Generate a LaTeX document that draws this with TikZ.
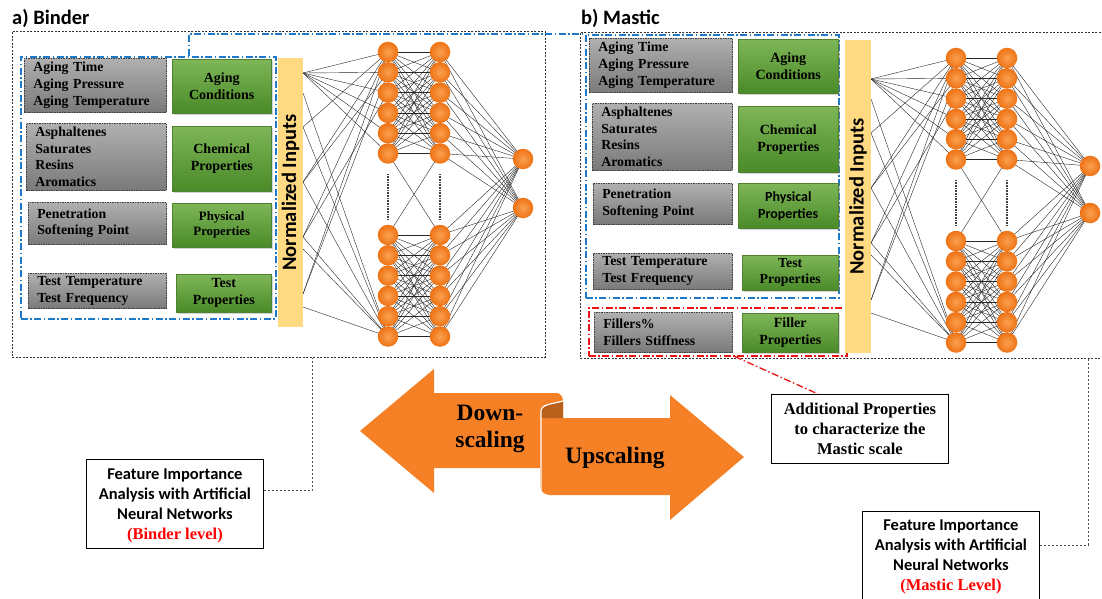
\documentclass[tikz,border=0pt]{standalone}
\usepackage{fontspec}
\setmainfont{Liberation Serif}
\newfontfamily\calfont{Carlito}
\usetikzlibrary{shadows}
\pgfdeclarelayer{bg}
\pgfsetlayers{bg,main}

\definecolor{graytop}{RGB}{176,176,176}
\definecolor{graybot}{RGB}{122,122,122}
\definecolor{greentop}{RGB}{126,182,88}
\definecolor{greenbot}{RGB}{74,138,40}
\definecolor{greenedge}{RGB}{80,128,50}
\definecolor{barfill}{RGB}{255,218,130}
\definecolor{neuronin}{RGB}{250,160,80}
\definecolor{neuronout}{RGB}{238,114,20}
\definecolor{arroworange}{RGB}{245,128,37}
\definecolor{folddark}{RGB}{184,96,28}
\definecolor{dashblue}{RGB}{32,120,200}
\definecolor{dashred}{RGB}{235,20,20}

% neural network: prefix, bar edge x, column 1 x, column 2 x, first neuron y,
% output x, output 1 y, output 2 y
\newcommand\drawnet[8]{%
  \foreach \i in {1,...,6}{
    \pgfmathsetmacro\yy{#5+(\i-1)*20.3}
    \pgfmathsetmacro\yb{#5+183+(\i-1)*20.3}
    \pgfmathtruncatemacro\jj{\i+6}
    \node[neuron] (#1a\i) at (#3,\yy) {};
    \node[neuron] (#1b\i) at (#4,\yy) {};
    \node[neuron] (#1a\jj) at (#3,\yb) {};
    \node[neuron] (#1b\jj) at (#4,\yb) {};
  }
  \node[neuron] (#1o1) at (#6,#7) {};
  \node[neuron] (#1o2) at (#6,#8) {};
  \foreach \k/\d in {1/21,2/41,3/75,4/130,5/185,6/197,7/242,8/255}
    \coordinate (#1s\k) at (#2,#5+\d);
  \draw[vdots] ([yshift=-10pt]#1a6.south) -- ([yshift=5pt]#1a7.north);
  \draw[vdots] ([yshift=-10pt]#1b6.south) -- ([yshift=5pt]#1b7.north);
  \begin{pgfonlayer}{bg}
    \foreach \i in {1,...,6} \draw[wire] (#1s1) -- (#1a\i.center);
    \foreach \p/\q in {2/12,3/1,3/12,4/1,4/2,4/12,5/1,5/3,5/12,6/12,7/1,7/2,8/12}
      \draw[wire] (#1s\p) -- (#1a\q.center);
    \foreach \i in {1,...,6} \foreach \m in {1,...,6}
      \draw[wire] (#1a\i.center) -- (#1b\m.center);
    \foreach \i in {7,...,12} \foreach \m in {7,...,12}
      \draw[wire] (#1a\i.center) -- (#1b\m.center);
    \draw[wire] (#1a6.center) -- (#1b7.center);
    \draw[wire] (#1a7.center) -- (#1b6.center);
    \foreach \i in {1,...,12}{
      \draw[wire] (#1b\i.center) -- (#1o1.center);
      \draw[wire] (#1b\i.center) -- (#1o2.center);
    }
  \end{pgfonlayer}
}

\begin{document}
\begin{tikzpicture}[x=1pt,y=-1pt,
  panel/.style={draw=black!80, dash pattern=on 2pt off 1.5pt, line width=0.7pt, anchor=north west, inner sep=0pt},
  bluedash/.style={draw=dashblue, line width=1.7pt, dash pattern=on 7pt off 2.5pt on 1.5pt off 2.5pt},
  reddash/.style={draw=dashred, line width=1.6pt, dash pattern=on 7pt off 2.5pt on 1.5pt off 2.5pt},
  framebox/.style={anchor=north west, inner sep=0pt},
  graybox/.style={draw=black!75, dash pattern=on 1.5pt off 1pt, line width=0.6pt,
    top color=graytop, bottom color=graybot, anchor=north west, inner xsep=9pt, inner ysep=0pt,
    align=left, font=\bfseries\fontsize{13.8}{16.7}\selectfont},
  greenbox/.style={draw=greenedge, line width=0.5pt, top color=greentop, bottom color=greenbot,
    drop shadow={shadow xshift=1.3pt, shadow yshift=-1.3pt, opacity=0.35},
    anchor=north west, inner sep=0pt, align=center, font=\bfseries\fontsize{14}{17}\selectfont},
  inbar/.style={fill=barfill, rotate=90, inner sep=0pt, font=\calfont\bfseries\fontsize{20.5}{24}\selectfont},
  neuron/.style={circle, minimum size=20.5pt, inner sep=0pt, inner color=neuronin, outer color=neuronout},
  wire/.style={draw=black!85, line width=0.4pt},
  vdots/.style={draw=black!75, line width=1.3pt, dash pattern=on 0.8pt off 0.8pt},
  title/.style={anchor=base west, inner sep=0pt, font=\calfont\bfseries\fontsize{20.5}{24}\selectfont},
  notebox/.style={draw=black, line width=0.8pt, anchor=north west, align=center},
  feattext/.style={font=\calfont\bfseries\fontsize{16.5}{20}\selectfont, align=center},
  conn/.style={draw=black!70, line width=0.9pt, dash pattern=on 2.5pt off 1.5pt},
  bigtext/.style={font=\bfseries\fontsize{23.5}{27}\selectfont, align=center, inner sep=0pt}
]
\useasboundingbox (0,0) rectangle (1102,599);

% ---------- panel a) Binder ----------
\node[title] (titleL) at (12,25) {a) Binder};
\node[panel, minimum width=533, minimum height=326] (panelL) at (12,31) {};
\node[framebox, bluedash, minimum width=255, minimum height=262] (blueL) at (20,56) {};

\node[graybox, minimum width=142, minimum height=54, text width=124pt] (lg1) at (24,58)
  {Aging Time\\Aging Pressure\\Aging Temperature};
\node[graybox, minimum width=140, minimum height=67, text width=122pt] (lg2) at (26,123)
  {Asphaltenes\\Saturates\\Resins\\Aromatics};
\node[graybox, minimum width=138, minimum height=42, text width=120pt] (lg3) at (28,202)
  {Penetration\\Softening Point};
\node[graybox, minimum width=138, minimum height=35, text width=120pt] (lg4) at (28,273)
  {Test Temperature\\Test Frequency};

\node[greenbox, minimum width=99, minimum height=54] (lc1) at (172,59) {Aging\\Conditions};
\node[greenbox, minimum width=99, minimum height=65] (lc2) at (172,126) {Chemical\\Properties};
\node[greenbox, minimum width=99, minimum height=44, font=\bfseries\fontsize{12.8}{15}\selectfont]
  (lc3) at (172,203) {Physical\\Properties};
\node[greenbox, minimum width=95, minimum height=38] (lc4) at (176,274) {Test\\Properties};

\node[inbar, minimum width=269, minimum height=25] (barL) at (290.5,192.5) {Normalized Inputs};
\drawnet{L}{303}{388}{440}{52}{523}{159}{208}

% ---------- panel b) Mastic ----------
\node[title] (titleR) at (581,25) {b) Mastic};
\node[panel, minimum width=540, minimum height=326] (panelR) at (580,32) {};
\node[framebox, bluedash, minimum width=253, minimum height=263] (blueR) at (585,34) {};
\node[framebox, reddash, minimum width=258, minimum height=48] (redR) at (588,307) {};

\node[graybox, minimum width=143, minimum height=54, text width=125pt] (rg1) at (589,38)
  {Aging Time\\Aging Pressure\\Aging Temperature};
\node[graybox, minimum width=140, minimum height=67, text width=122pt] (rg2) at (592,103)
  {Asphaltenes\\Saturates\\Resins\\Aromatics};
\node[graybox, minimum width=139, minimum height=41, text width=121pt] (rg3) at (593,183)
  {Penetration\\Softening Point};
\node[graybox, minimum width=139, minimum height=36, text width=121pt] (rg4) at (593,253)
  {Test Temperature\\Test Frequency};
\node[graybox, minimum width=138, minimum height=40, text width=120pt] (rg5) at (594,312)
  {Fillers\%\\Fillers Stiffness};

\node[greenbox, minimum width=100, minimum height=54] (rc1) at (738,39) {Aging\\Conditions};
\node[greenbox, minimum width=100, minimum height=66] (rc2) at (738,106) {Chemical\\Properties};
\node[greenbox, minimum width=100, minimum height=45, font=\calfont\bfseries\fontsize{14}{17}\selectfont]
  (rc3) at (738,183) {Physical\\Properties};
\node[greenbox, minimum width=96, minimum height=35, font=\bfseries\fontsize{13.8}{16}\selectfont]
  (rc4) at (742,255) {Test\\Properties};
\node[greenbox, minimum width=96, minimum height=39] (rc5) at (742,313) {Filler\\Properties};

\node[inbar, minimum width=313, minimum height=26] (barR) at (858,196.5) {Normalized Inputs};
\drawnet{R}{871}{956}{1007}{58}{1090}{166}{213}

% blue link between the two input groups
\coordinate (bj) at (189,56);
\draw[bluedash] (bj) |- (blueR.north west);

% ---------- scaling arrows ----------
\fill[arroworange] (360,431) -- (434,369) -- (434,393) -- (556,393)
  .. controls (560,393) and (563,396) .. (563,401) -- (563,418) -- (540,418)
  -- (540,468) -- (434,468) -- (434,493) -- cycle;
\fill[arroworange] (540,485) -- (540,418) -- (670,418) -- (670,395) -- (744,457)
  -- (670,520) -- (670,495) -- (550,495) .. controls (544,495) and (540,491) .. (540,485) -- cycle;
\fill[folddark] (541,418) -- (541,411) .. controls (541,405) and (553,404) .. (563,401)
  -- (563,418) -- cycle;
\draw[white, line width=1.2pt] (563,401) .. controls (553,404) and (541,404) .. (541,411) -- (541,490);
\node[bigtext] (down) at (490,429) {Down-\\scaling};
\node[bigtext] (up) at (615,458) {Upscaling};

% ---------- notes ----------
\node[notebox, minimum width=177, minimum height=69, inner sep=0pt,
  font=\bfseries\fontsize{16.5}{20}\selectfont] (addl) at (771,394)
  {Additional Properties\\to characterize the\\Mastic scale};
\draw[reddash, line width=1.3pt] ([xshift=147pt]redR.south west) -- ([xshift=47pt]addl.north west);

\node[notebox, feattext, minimum width=177, minimum height=89, inner sep=0pt] (featL) at (86,459)
  {\rule{0pt}{14pt}Feature Importance\\Analysis with Artificial\\Neural Networks\\
   {\rmfamily\color{red}(Binder level)}};
\draw[conn] ([yshift=13pt]featL.east) -| ([xshift=300pt]panelL.south west);

\node[notebox, minimum width=177, minimum height=110, inner sep=0pt] (featR) at (862,511) {};
\node[feattext, anchor=north, inner sep=0pt] (featRtext) at ([yshift=-9pt]featR.north)
  {Feature Importance\\Analysis with Artificial\\Neural Networks\\
   {\rmfamily\color{red}(Mastic Level)}};
\draw[conn] ([yshift=-34pt]featR.north east) -| ([xshift=508pt]panelR.south west);
\end{tikzpicture}
\end{document}
